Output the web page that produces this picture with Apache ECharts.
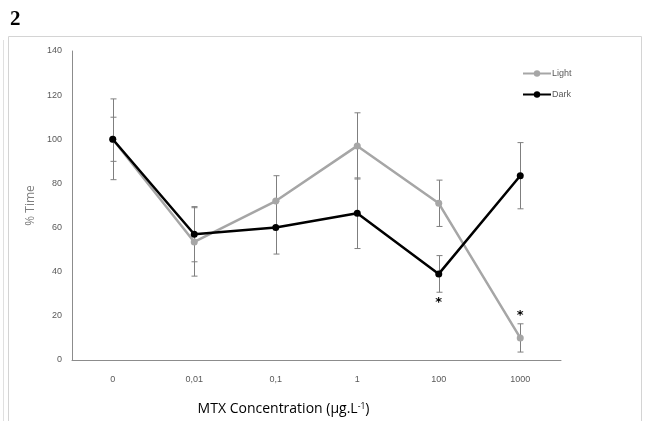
<!DOCTYPE html>
<html>
<head>
<meta charset="utf-8">
<script src="https://cdn.jsdelivr.net/npm/echarts@6/dist/echarts.min.js"></script>
<style>
  html, body { margin: 0; padding: 0; background: #fff; }
  #chart { width: 650px; height: 421px; }
</style>
</head>
<body>
<div id="chart"></div>
<script>
// MTX concentration levels (x axis)
const categories = ['0', '0,01', '0,1', '1', '100', '1000'];

// Mean % time per condition
const lightValues = [100, 53.5, 72, 97, 71, 10];
const darkValues = [100, 57, 60, 66.5, 39, 83.5];

// Error half-widths
const lightErr = [10, 15.5, 11.5, 15, 10.5, 6.4];
const darkErr = [18.3, 12.5, 12, 16, 8.3, 15];

// Significance markers: [category index, y value]
const stars = [[4, 26], [5, 20]];

// Y ticks
const yMin = 0, yMax = 140, yStep = 20;

const labelFont = 'Liberation Sans';

function errData(vals, errs) {
  return vals.map((v, i) => [i, v - errs[i], v + errs[i]]);
}

function renderErr(params, api) {
  const x = api.value(0);
  const lo = api.coord([x, api.value(1)]);
  const hi = api.coord([x, api.value(2)]);
  const cx = Math.round(lo[0]) + 0.5;
  const cap = 3;
  const style = { stroke: '#7f7f7f', lineWidth: 1 };
  return {
    type: 'group',
    children: [
      { type: 'line', shape: { x1: cx, y1: hi[1], x2: cx, y2: lo[1] }, style },
      { type: 'line', shape: { x1: cx - cap, y1: hi[1], x2: cx + cap, y2: hi[1] }, style },
      { type: 'line', shape: { x1: cx - cap, y1: lo[1], x2: cx + cap, y2: lo[1] }, style }
    ]
  };
}

// Asterisks drawn as text at their data positions
function renderStar(params, api) {
  const p = api.coord([api.value(0), api.value(1)]);
  return {
    type: 'text',
    x: p[0],
    y: p[1],
    style: {
      text: '*',
      font: 'bold 13px "DejaVu Sans"',
      fill: '#000',
      align: 'center',
      verticalAlign: 'middle'
    }
  };
}

const chart = echarts.init(document.getElementById('chart'), null, { renderer: 'canvas' });

chart.setOption({
  animation: false,
  backgroundColor: '#ffffff',
  graphic: [
    { type: 'rect', shape: { x: 8.5, y: 36.5, width: 633, height: 420 },
      style: { fill: 'none', stroke: '#d4d4d4', lineWidth: 1 }, z: -10 },
    { type: 'line', shape: { x1: 3.5, y1: 40, x2: 3.5, y2: 421 },
      style: { stroke: '#e0e0e0', lineWidth: 1 }, z: -10 },
    { type: 'text', left: 10, top: 9,
      style: { text: '2', font: 'bold 21px "Liberation Serif"', fill: '#000' } }
  ],
  grid: { left: 72, right: 89, top: 51, bottom: 61, outerBoundsMode: 'none', containLabel: false },
  legend: {
    orient: 'vertical',
    left: 517,
    top: 64,
    itemWidth: 28,
    itemHeight: 8,
    itemGap: 12,
    textStyle: { fontFamily: labelFont, fontSize: 9, color: '#595959', padding: [0, 0, 0, -4] },
    data: ['Light', 'Dark']
  },
  xAxis: {
    type: 'category',
    data: categories,
    boundaryGap: true,
    axisLine: { lineStyle: { color: '#8c8c8c', width: 1 } },
    axisTick: { show: false },
    axisLabel: { fontFamily: labelFont, fontSize: 9, color: '#595959', margin: 15 },
    name: '{a|MTX Concentration (µg.L}{s|-1}{a|)}',
    nameLocation: 'middle',
    nameGap: 42,
    nameTextStyle: {
      padding: [0, 66, 0, 0],
      rich: {
        a: { fontFamily: 'Open Sans', fontSize: 14, color: '#000' },
        s: { fontFamily: 'Open Sans', fontSize: 8.5, color: '#000', verticalAlign: 'top', lineHeight: 10, padding: [0, 0, 7, 0] }
      }
    }
  },
  yAxis: {
    type: 'value',
    min: yMin,
    max: yMax,
    interval: yStep,
    axisLine: { show: true, lineStyle: { color: '#8c8c8c', width: 1 } },
    axisTick: { show: false },
    splitLine: { show: false },
    axisLabel: { fontFamily: labelFont, fontSize: 9, color: '#595959', margin: 10 },
    name: '% Time',
    nameLocation: 'middle',
    nameGap: 27,
    nameTextStyle: { fontFamily: 'Open Sans', fontSize: 12, color: '#7f7f7f' }
  },
  series: [
    {
      name: 'LightErr',
      type: 'custom',
      renderItem: renderErr,
      data: errData(lightValues, lightErr),
      z: 1,
      silent: true
    },
    {
      name: 'DarkErr',
      type: 'custom',
      renderItem: renderErr,
      data: errData(darkValues, darkErr),
      z: 1,
      silent: true
    },
    {
      name: 'Light',
      type: 'line',
      data: lightValues,
      symbol: 'circle',
      symbolSize: 7,
      color: '#a6a6a6',
      lineStyle: { color: '#a6a6a6', width: 2.5 },
      itemStyle: { color: '#a6a6a6' },
      z: 3
    },
    {
      name: 'Dark',
      type: 'line',
      data: darkValues,
      symbol: 'circle',
      symbolSize: 7,
      color: '#000000',
      lineStyle: { color: '#000000', width: 2.5 },
      itemStyle: { color: '#000000' },
      z: 4
    },
    {
      name: 'stars',
      type: 'custom',
      renderItem: renderStar,
      data: stars,
      silent: true,
      z: 5
    }
  ]
});
</script>
</body>
</html>
